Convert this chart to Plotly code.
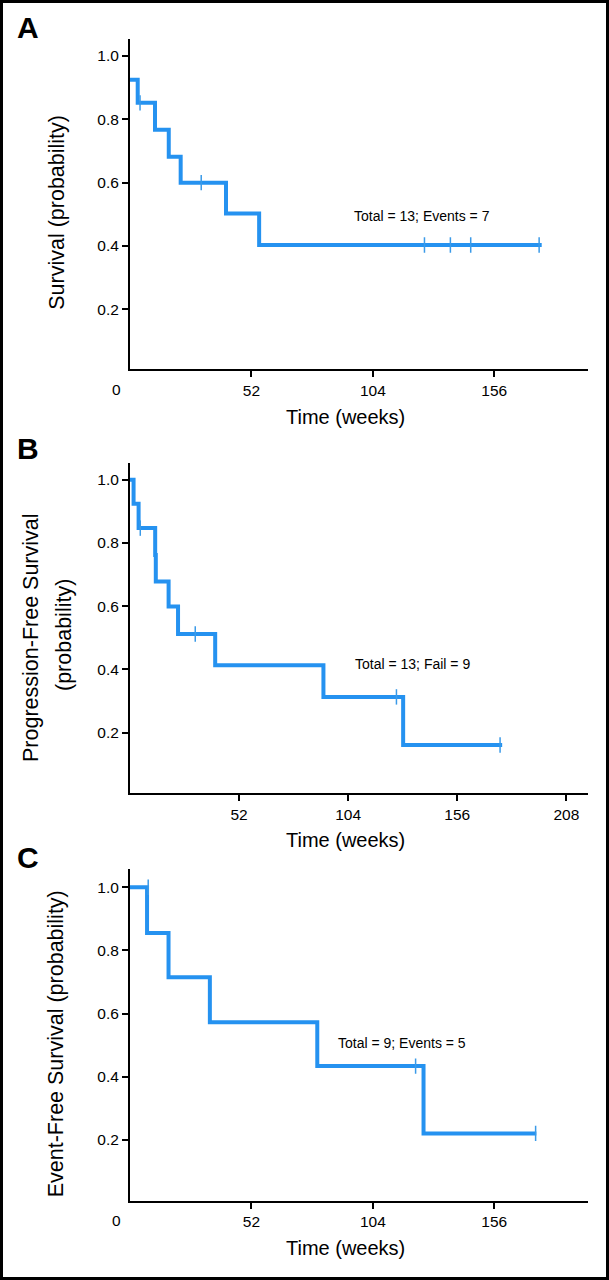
import plotly.graph_objects as go

# ---------------- data ----------------
A_time = [0, 3.3, 10.7, 16.6, 21.7, 41.1, 55.3, 176.3]
A_surv = [0.925, 0.852, 0.767, 0.682, 0.600, 0.503, 0.403, 0.403]
A_cens_time = [4.3, 30.5, 126.1, 137.2, 145.9, 175.2]
A_cens_surv = [0.852, 0.600, 0.403, 0.403, 0.403, 0.403]

B_time = [0, 1.7, 4.1, 12.0, 12.3, 18.4, 22.9, 40.6, 92.2, 130.2, 177.4]
B_surv = [1.0, 0.924, 0.847, 0.762, 0.678, 0.599, 0.512, 0.413, 0.313, 0.161, 0.161]
B_cens_time = [4.9, 31.1, 127.0, 176.4]
B_cens_surv = [0.847, 0.512, 0.313, 0.161]

C_time = [0, 7.3, 16.5, 34.2, 80.2, 125.7, 174.0]
C_surv = [1.0, 0.855, 0.715, 0.573, 0.434, 0.221, 0.221]
C_cens_time = [7.8, 122.3, 173.7]
C_cens_surv = [1.0, 0.434, 0.221]

y_ticks = [0.2, 0.4, 0.6, 0.8, 1.0]
y_ticktext = ["0.2", "0.4", "0.6", "0.8", "1.0"]
A_xticks = [52, 104, 156]
B_xticks = [52, 104, 156, 208]
C_xticks = [52, 104, 156]

labels = ["A", "B", "C"]
notes = ["Total = 13; Events = 7", "Total = 13; Fail = 9", "Total = 9; Events = 5"]
x_title = "Time (weeks)"

# ---------------- layout helpers ----------------
W, H = 609, 1280
def px(x):
    return x / W
def py(y):
    return 1 - y / H

FONT = "Liberation Sans, Arial, Helvetica, sans-serif"
LINE = "#2592f0"
CENS = "#3a9ae8"

fig = go.Figure()

panels = [
    dict(t=A_time, s=A_surv, ct=A_cens_time, cs=A_cens_surv, xt=A_xticks,
         xr=[0, 196.3], yd=[py(369.3), py(39.3)], yr=[0.0107, 1.0527]),
    dict(t=B_time, s=B_surv, ct=B_cens_time, cs=B_cens_surv, xt=B_xticks,
         xr=[0, 218.5], yd=[py(793.3), py(462.7)], yr=[0.008, 1.054]),
    dict(t=C_time, s=C_surv, ct=C_cens_time, cs=C_cens_surv, xt=C_xticks,
         xr=[0, 196.3], yd=[py(1200.7), py(869.3)], yr=[0.008, 1.057]),
]

axis_common = dict(showline=True, linecolor="black", linewidth=2,
                   ticks="outside", ticklen=6, tickwidth=1.5, tickcolor="black",
                   showgrid=False, zeroline=False,
                   tickfont=dict(family=FONT, size=15.5, color="black"))

for i, p in enumerate(panels, start=1):
    xa = "x" if i == 1 else f"x{i}"
    ya = "y" if i == 1 else f"y{i}"
    fig.add_trace(go.Scatter(x=p["t"], y=p["s"], mode="lines",
                             line=dict(color=LINE, width=4, shape="hv"),
                             xaxis=xa, yaxis=ya, hoverinfo="skip"))
    fig.add_trace(go.Scatter(x=p["ct"], y=p["cs"], mode="markers",
                             marker=dict(symbol="line-ns", size=11,
                                         line=dict(color=CENS, width=1.5)),
                             xaxis=xa, yaxis=ya, hoverinfo="skip"))
    xkey = "xaxis" if i == 1 else f"xaxis{i}"
    ykey = "yaxis" if i == 1 else f"yaxis{i}"
    fig.update_layout(**{
        xkey: dict(domain=[px(130), px(588.4)], range=p["xr"], anchor=ya,
                   tickvals=p["xt"], ticktext=[str(v) for v in p["xt"]],
                   **axis_common),
        ykey: dict(domain=p["yd"], range=p["yr"], anchor=xa,
                   tickvals=y_ticks, ticktext=y_ticktext, **axis_common),
    })

ann = []
def add_text(text, x, y, size, angle=0, bold=False, xanchor="center"):
    ann.append(dict(text=f"<b>{text}</b>" if bold else text,
                    x=px(x), y=py(y), xref="paper", yref="paper",
                    xanchor=xanchor, yanchor="middle", showarrow=False,
                    textangle=angle,
                    font=dict(family=FONT, size=size, color="black")))

# panel letters
add_text(labels[0], 27.5, 27, 30, bold=True)
add_text(labels[1], 27.5, 448, 30, bold=True)
add_text(labels[2], 27.5, 857, 30, bold=True)

# x titles
add_text(x_title, 345.6, 417, 20)
add_text(x_title, 345.6, 840, 20)
add_text(x_title, 345.6, 1248, 20)

# y titles
add_text("Survival (probability)", 56.3, 212.5, 21.5, angle=-90)
add_text("Progression-Free Survival", 31, 638, 21.5, angle=-90)
add_text("(probability)", 64, 635, 21.5, angle=-90)
add_text("Event-Free Survival (probability)", 56.3, 1044, 21.5, angle=-90)

# "0" origin labels (A and C)
add_text("0", 116.7, 389, 15.5)
add_text("0", 116.7, 1220, 15.5)

# in-plot notes
add_text(notes[0], 352.3, 216, 14, xanchor="left")
add_text(notes[1], 353.4, 663.5, 14, xanchor="left")
add_text(notes[2], 335.9, 1043, 14, xanchor="left")

fig.update_layout(
    width=W, height=H,
    margin=dict(l=0, r=0, t=0, b=0),
    paper_bgcolor="white", plot_bgcolor="white",
    showlegend=False,
    annotations=ann,
    shapes=[dict(type="rect", xref="paper", yref="paper",
                 x0=px(1.5), x1=px(607.5), y0=py(1278.5), y1=py(1.5),
                 line=dict(color="black", width=3))],
)

fig.write_html(
    "out.html",
    config={"displayModeBar": False},
    post_script="document.body.style.margin='0';document.body.style.padding='0';"
                "document.body.style.overflow='hidden';",
)
